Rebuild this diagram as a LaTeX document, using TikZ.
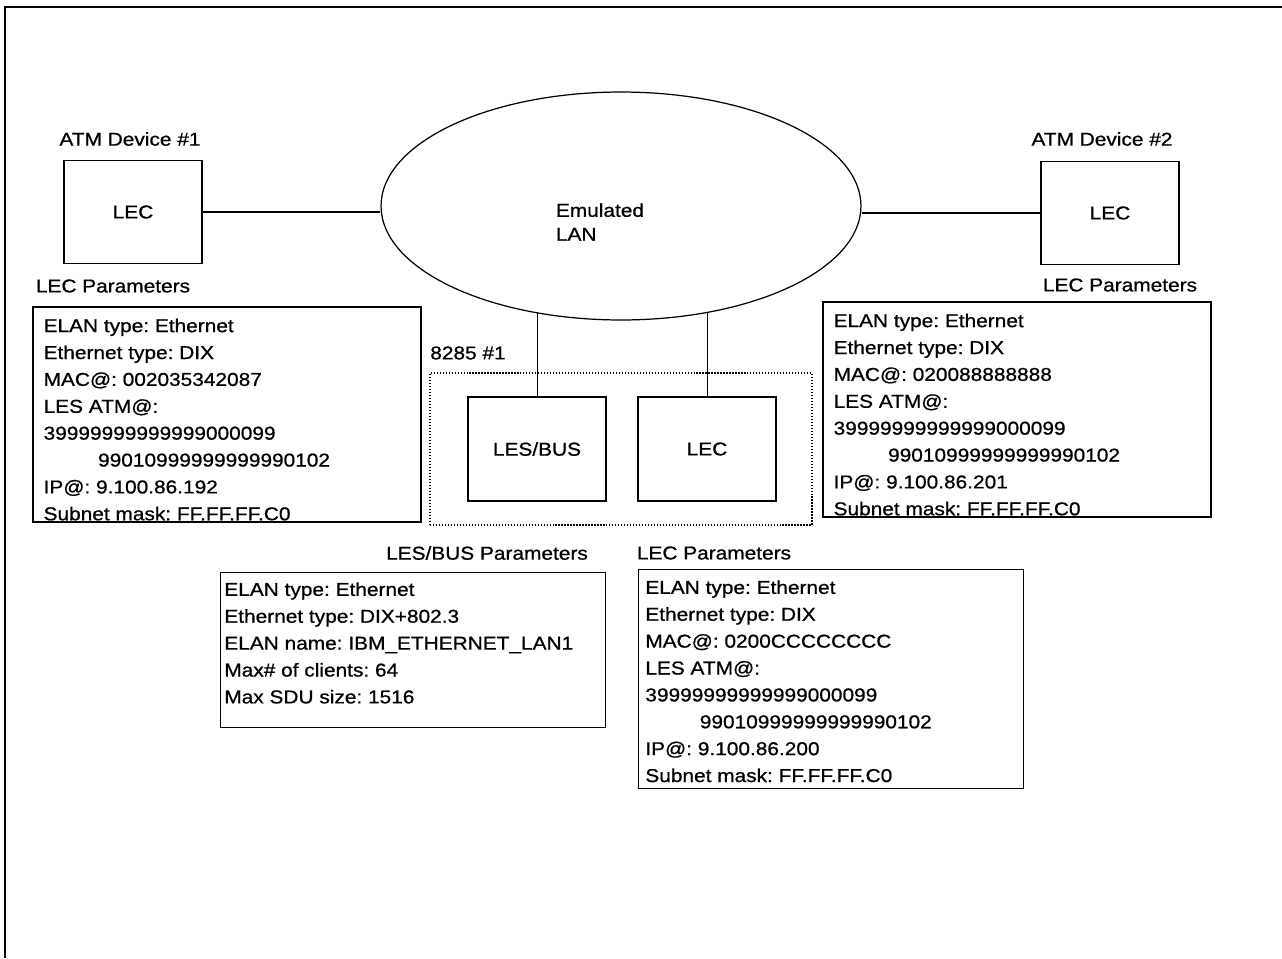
\documentclass[tikz,border=0pt]{standalone}
\usepackage{fontspec}
\setmainfont{Liberation Sans}[FakeStretch=1.12,FakeBold=0.8]
\usetikzlibrary{shapes.geometric}
\pgfdeclarelayer{background}
\pgfsetlayers{background,main}
\frenchspacing

\begin{document}
\begin{tikzpicture}[x=0.02cm,y=-0.02cm,line width=0.7pt,
  every node/.style={font=\fontsize{10.6pt}{15.3pt}\selectfont},
  devbox/.style={draw,minimum width=2.76cm,minimum height=2.06cm,inner sep=0pt},
  parambox/.style={draw,minimum width=7.76cm,minimum height=4.3cm,inner sep=0pt},
  paramtext/.style={anchor=north west,align=left,inner sep=0pt}]
  \useasboundingbox (0,0) rectangle (1282,958);
  \draw[line width=1.1pt] (5,958) -- (5,7) -- (1282,7);

  \node[draw,ellipse,fill=white,minimum width=9.6cm,minimum height=4.56cm,inner sep=0pt] (lan) at (621,206) {};
  \node[align=left,font=\fontsize{10.6pt}{13.6pt}\selectfont] (lanlabel) at (600,222) {Emulated\\LAN};

  \node[devbox] (lec1) at (133,212) {LEC};
  \node (atm1) at (130,139) {ATM Device \#1};
  \node[devbox] (lec2) at (1110,213) {LEC};
  \node (atm2) at (1102,139) {ATM Device \#2};
  \draw (lec1) -- (lec1 -| lan.west);
  \draw (lec2) -- (lec2 -| lan.east);

  \node (lec1title) at (113,286) {LEC Parameters};
  \node[parambox] (lec1par) at (227,414.5) {};
  \node[paramtext] (lec1text) at (43,318) {ELAN type: Ethernet\\Ethernet type: DIX\\MAC@: 002035342087\\LES ATM@:\\39999999999999000099\\\hspace*{31pt}99010999999999990102\\IP@: 9.100.86.192\\Subnet mask: FF.FF.FF.C0};

  \node (lec2title) at (1120,285) {LEC Parameters};
  \node[parambox] (lec2par) at (1017,409.5) {};
  \node[paramtext] (lec2text) at (833,313) {ELAN type: Ethernet\\Ethernet type: DIX\\MAC@: 020088888888\\LES ATM@:\\39999999999999000099\\\hspace*{31pt}99010999999999990102\\IP@: 9.100.86.201\\Subnet mask: FF.FF.FF.C0};

  \node (box8285) at (468,353) {8285 \#1};
  \node[draw,densely dotted,minimum width=7.64cm,minimum height=3.04cm,inner sep=0pt] (sw8285) at (621,449) {};
  \node[devbox,minimum height=2.08cm] (lesbus) at (537,449) {LES/BUS};
  \node[devbox,minimum height=2.08cm] (lec3) at (707,449) {LEC};
  \begin{pgfonlayer}{background}
    \draw (lesbus) -- (lesbus |- lan.center);
    \draw (lec3) -- (lec3 |- lan.center);
  \end{pgfonlayer}

  \node (lesbustitle) at (487,553) {LES/BUS Parameters};
  \node[parambox,minimum width=7.7cm,minimum height=3.1cm] (lesbuspar) at (412.5,649.5) {};
  \node[paramtext] (lesbustext) at (224,582) {ELAN type: Ethernet\\Ethernet type: DIX+802.3\\ELAN name: IBM\_ETHERNET\_LAN1\\Max\# of clients: 64\\Max SDU size: 1516};

  \node (lec3title) at (714,553) {LEC Parameters};
  \node[parambox,minimum width=7.7cm,minimum height=4.38cm] (lec3par) at (830.5,678.5) {};
  \node[paramtext] (lec3text) at (645,580) {ELAN type: Ethernet\\Ethernet type: DIX\\MAC@: 0200CCCCCCCC\\LES ATM@:\\39999999999999000099\\\hspace*{31pt}99010999999999990102\\IP@: 9.100.86.200\\Subnet mask: FF.FF.FF.C0};
\end{tikzpicture}
\end{document}
